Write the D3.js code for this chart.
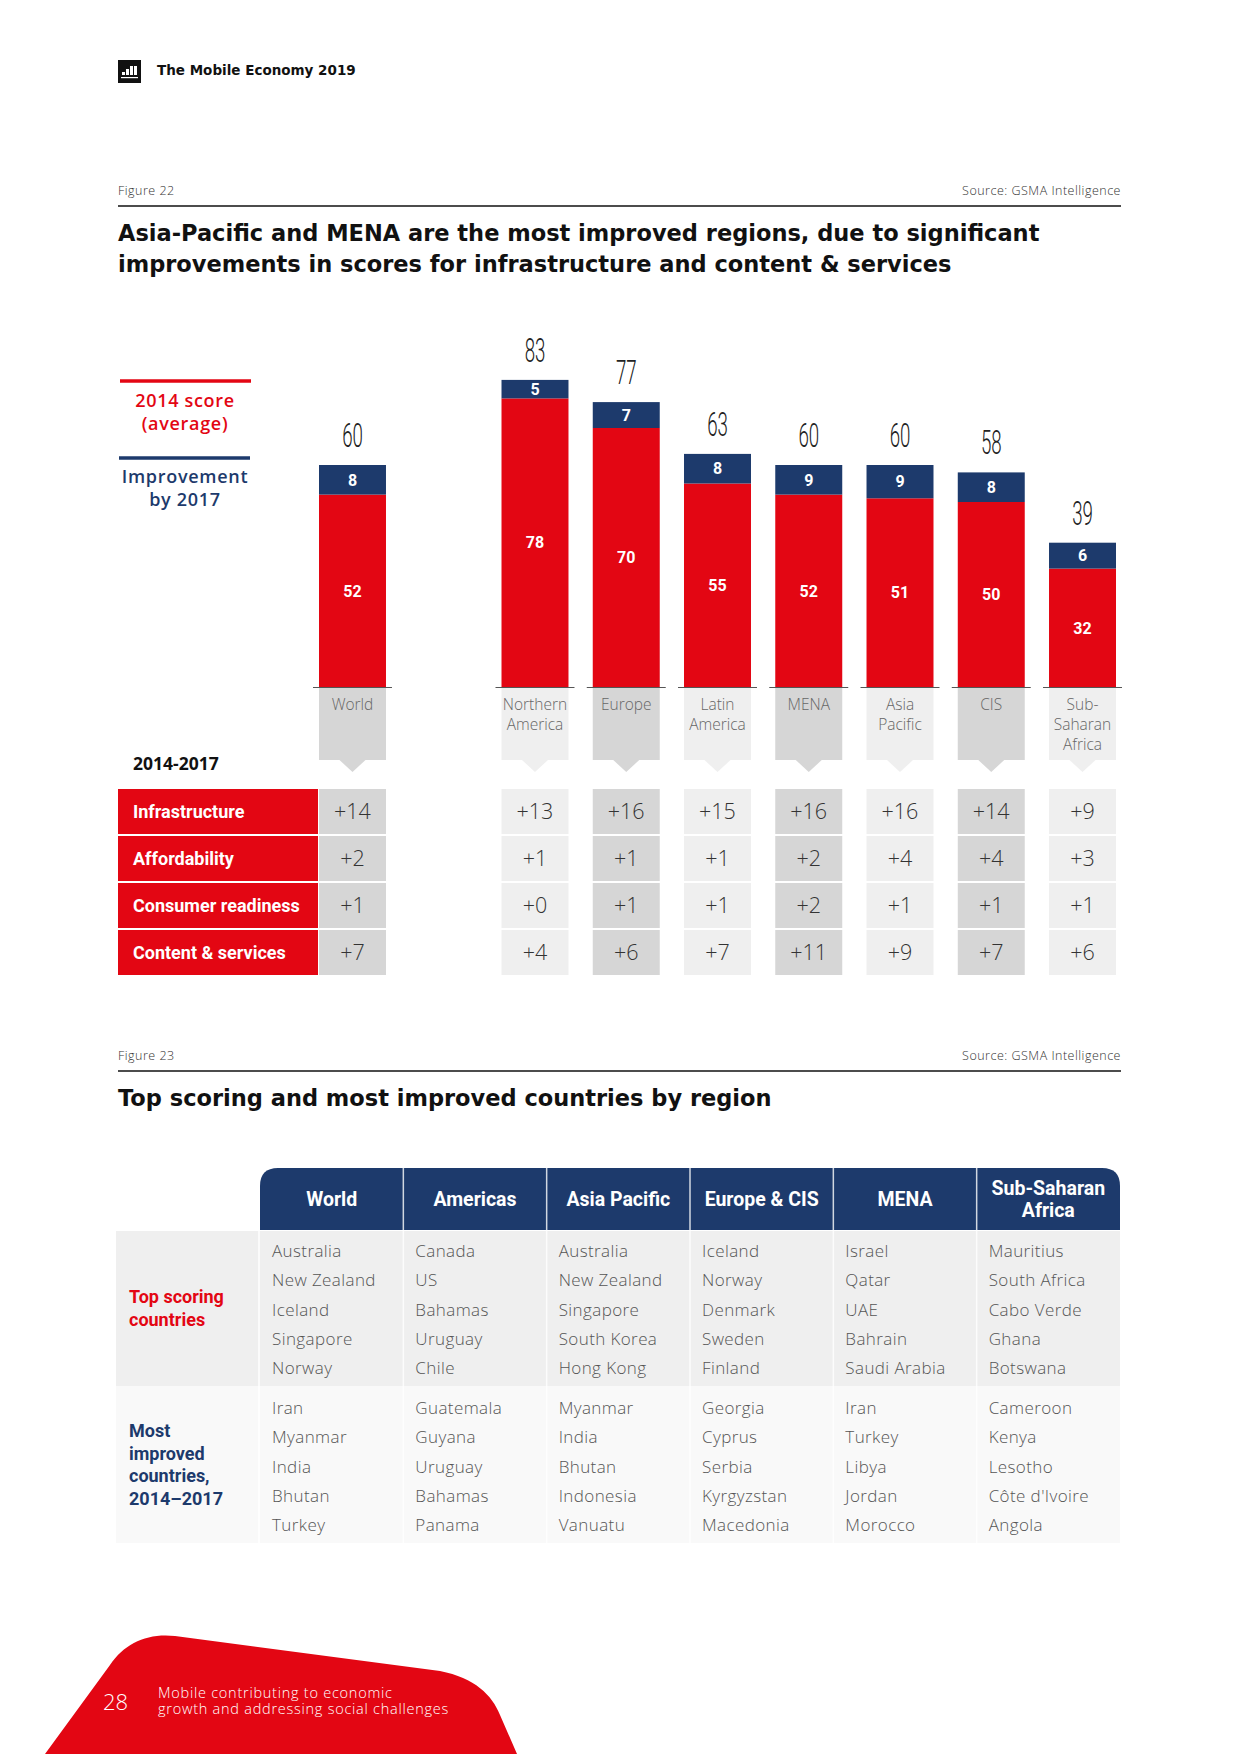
<!DOCTYPE html>
<html>
<head>
<meta charset="utf-8">
<script src="https://cdn.jsdelivr.net/npm/d3@7"></script>
<style>
  body { margin: 0; background: #ffffff; }
  svg { display: block; }
</style>
</head>
<body>
<svg id="page"></svg>
<script>
// page size
const width = 1240, height = 1754;

// Figure 22 data
const regions = ["World", "Northern America", "Europe", "Latin America", "MENA", "Asia Pacific", "CIS", "Sub-Saharan Africa"];
const regionLines = [["World"], ["Northern", "America"], ["Europe"], ["Latin", "America"], ["MENA"], ["Asia", "Pacific"], ["CIS"], ["Sub-", "Saharan", "Africa"]];
const score2014 = [52, 78, 70, 55, 52, 51, 50, 32];
const improvement = [8, 5, 7, 8, 9, 9, 8, 6];
const score2017 = [60, 83, 77, 63, 60, 60, 58, 39];

const pillars = ["Infrastructure", "Affordability", "Consumer readiness", "Content & services"];
const infrastructure = [14, 13, 16, 15, 16, 16, 14, 9];
const affordability = [2, 1, 1, 1, 2, 4, 4, 3];
const consumerReadiness = [1, 0, 1, 1, 2, 1, 1, 1];
const contentServices = [7, 4, 6, 7, 11, 9, 7, 6];

// Figure 23 data
const tableRegions = ["World", "Americas", "Asia Pacific", "Europe & CIS", "MENA", "Sub-Saharan Africa"];
const tableHeaderLines = [["World"], ["Americas"], ["Asia Pacific"], ["Europe & CIS"], ["MENA"], ["Sub-Saharan", "Africa"]];
const topScoring = [
  ["Australia", "New Zealand", "Iceland", "Singapore", "Norway"],
  ["Canada", "US", "Bahamas", "Uruguay", "Chile"],
  ["Australia", "New Zealand", "Singapore", "South Korea", "Hong Kong"],
  ["Iceland", "Norway", "Denmark", "Sweden", "Finland"],
  ["Israel", "Qatar", "UAE", "Bahrain", "Saudi Arabia"],
  ["Mauritius", "South Africa", "Cabo Verde", "Ghana", "Botswana"]
];
const mostImproved = [
  ["Iran", "Myanmar", "India", "Bhutan", "Turkey"],
  ["Guatemala", "Guyana", "Uruguay", "Bahamas", "Panama"],
  ["Myanmar", "India", "Bhutan", "Indonesia", "Vanuatu"],
  ["Georgia", "Cyprus", "Serbia", "Kyrgyzstan", "Macedonia"],
  ["Iran", "Turkey", "Libya", "Jordan", "Morocco"],
  ["Cameroon", "Kenya", "Lesotho", "Côte d'Ivoire", "Angola"]
];

const red = "#e30613", navy = "#1d3a6c";
const tabDark = "#d6d6d6", tabLight = "#efefef";
const gotham = "'Open Sans', 'Noto Sans', sans-serif";
const wide = "'DejaVu Sans', 'Open Sans', sans-serif";
const narrow = "Roboto, 'Open Sans', sans-serif";

const svg = d3.select("#page")
    .attr("width", width)
    .attr("height", height)
    .style("background", "#ffffff");

// ---------- page header ----------
const logo = svg.append("g").attr("transform", "translate(118,60)");
logo.append("rect").attr("width", 23).attr("height", 23).attr("fill", "#111");
[[5, 10], [9, 7], [13, 4], [17, 4]].forEach(([bx, by]) => {
  logo.append("rect").attr("x", bx - 1).attr("y", by + 2).attr("width", 3).attr("height", 13 - by).attr("fill", "#fff");
});
logo.append("rect").attr("x", 3).attr("y", 17).attr("width", 17).attr("height", 1.2).attr("fill", "#fff");

svg.append("text")
    .attr("x", 157).attr("y", 75)
    .style("font-family", wide).style("font-weight", 700).style("font-size", "13.5px")
    .attr("fill", "#111")
    .text("The Mobile Economy 2019");

// figure heading helper
function figureHead(y, label, title) {
  svg.append("text").attr("x", 118).attr("y", y)
      .style("font-family", gotham).style("font-weight", 300).style("font-size", "12.5px")
      .style("letter-spacing", "0.5px")
      .attr("fill", "#333").text(label);
  svg.append("text").attr("x", 1121).attr("y", y).attr("text-anchor", "end")
      .style("font-family", gotham).style("font-weight", 300).style("font-size", "12.5px")
      .style("letter-spacing", "0.5px")
      .attr("fill", "#333").text("Source: GSMA Intelligence");
  svg.append("line").attr("x1", 118).attr("x2", 1121).attr("y1", y + 11).attr("y2", y + 11)
      .attr("stroke", "#111").attr("stroke-width", 1.5);
  title.forEach((t, i) => {
    svg.append("text").attr("x", 118).attr("y", y + 46 + i * 31)
        .style("font-family", wide).style("font-weight", 700).style("font-size", "22.5px")
        .attr("fill", "#111").text(t);
  });
}

figureHead(195, "Figure 22", [
  "Asia-Pacific and MENA are the most improved regions, due to significant",
  "improvements in scores for infrastructure and content & services"
]);

// ---------- Figure 22: stacked bars ----------
const xScale = d3.scaleBand()
    .domain([regions[0], "gap", ...regions.slice(1)])
    .range([319, 1116])
    .paddingInner(0.266);

const yScale = d3.scaleLinear()
    .domain([0, 100])
    .range([687, 317]);

const bw = xScale.bandwidth();
const barData = regions.map((r, i) => ({
  region: r, base: score2014[i], imp: improvement[i], total: score2017[i], lines: regionLines[i], i: i
}));

// legend
svg.append("line").attr("x1", 120).attr("x2", 251).attr("y1", 381).attr("y2", 381)
    .attr("stroke", red).attr("stroke-width", 3.5);
svg.append("text").attr("x", 185).attr("text-anchor", "middle")
    .style("font-family", gotham).style("font-weight", 600).style("font-size", "18px")
    .style("letter-spacing", "0.7px")
    .attr("fill", red)
    .selectAll("tspan").data(["2014 score", "(average)"]).join("tspan")
    .attr("x", 185).attr("y", (d, i) => 407 + i * 23).text(d => d);
svg.append("line").attr("x1", 119).attr("x2", 250).attr("y1", 458).attr("y2", 458)
    .attr("stroke", navy).attr("stroke-width", 3.5);
svg.append("text").attr("x", 185).attr("text-anchor", "middle")
    .style("font-family", gotham).style("font-weight", 600).style("font-size", "18px")
    .style("letter-spacing", "0.7px")
    .attr("fill", navy)
    .selectAll("tspan").data(["Improvement", "by 2017"]).join("tspan")
    .attr("x", 185).attr("y", (d, i) => 483 + i * 23).text(d => d);

const bars = svg.append("g").selectAll("g").data(barData).join("g");

// 2014 score segment
bars.append("rect")
    .attr("x", d => xScale(d.region))
    .attr("y", d => yScale(d.base))
    .attr("width", bw)
    .attr("height", d => yScale(0) - yScale(d.base))
    .attr("fill", red);

// improvement segment
bars.append("rect")
    .attr("x", d => xScale(d.region))
    .attr("y", d => yScale(d.total))
    .attr("width", bw)
    .attr("height", d => yScale(d.base) - yScale(d.total))
    .attr("fill", navy);

// baseline under each bar
bars.append("line")
    .attr("x1", d => xScale(d.region) - 6)
    .attr("x2", d => xScale(d.region) + bw + 6)
    .attr("y1", yScale(0) + 0.5).attr("y2", yScale(0) + 0.5)
    .attr("stroke", "#555").attr("stroke-width", 1.2);

// segment values
bars.append("text")
    .attr("x", d => xScale(d.region) + bw / 2)
    .attr("y", d => (yScale(0) + yScale(d.base)) / 2)
    .attr("dy", "0.36em").attr("text-anchor", "middle")
    .style("font-family", narrow).style("font-weight", 700).style("font-size", "16px")
    .attr("fill", "#fff")
    .text(d => d.base);

bars.append("text")
    .attr("x", d => xScale(d.region) + bw / 2)
    .attr("y", d => (yScale(d.base) + yScale(d.total)) / 2)
    .attr("dy", "0.36em").attr("text-anchor", "middle")
    .style("font-family", narrow).style("font-weight", 700).style("font-size", "16px")
    .attr("fill", "#fff")
    .text(d => d.imp);

// 2017 totals in a tall condensed style
bars.append("text")
    .attr("transform", d => `translate(${xScale(d.region) + bw / 2},${yScale(d.total) - 18}) scale(0.55,1)`)
    .attr("text-anchor", "middle")
    .style("font-family", narrow).style("font-weight", 300).style("font-size", "34px")
    .attr("fill", "#222")
    .text(d => d.total);

// region tabs
bars.append("path")
    .attr("d", d => {
      const x0 = xScale(d.region), cx = x0 + bw / 2;
      return `M${x0},688 H${x0 + bw} V760 H${cx + 13} L${cx},772 L${cx - 13},760 H${x0} Z`;
    })
    .attr("fill", d => d.i % 2 === 0 ? tabDark : tabLight);

bars.append("text")
    .attr("text-anchor", "middle")
    .style("font-family", gotham).style("font-weight", 300).style("font-size", "15.5px")
    .attr("fill", "#666")
    .selectAll("tspan").data(d => d.lines.map(l => ({ l, x: xScale(d.region) + bw / 2 }))).join("tspan")
    .attr("x", t => t.x).attr("y", (t, j) => 710 + j * 20).text(t => t.l);

// ---------- Figure 22: score change table ----------
svg.append("text").attr("x", 133).attr("y", 770)
    .style("font-family", gotham).style("font-weight", 700).style("font-size", "17.5px")
    .attr("fill", "#111").text("2014-2017");

const pillarValues = [infrastructure, affordability, consumerReadiness, contentServices];
const rowY = d3.scaleBand().domain(pillars).range([788, 976]);
const rh = rowY.bandwidth();

const rows = svg.append("g").selectAll("g").data(pillars).join("g");
rows.append("rect")
    .attr("x", 118).attr("y", p => rowY(p) + 1)
    .attr("width", 200).attr("height", rh - 2)
    .attr("fill", red);
rows.append("text")
    .attr("x", 133).attr("y", p => rowY(p) + rh / 2).attr("dy", "0.36em")
    .style("font-family", narrow).style("font-weight", 700).style("font-size", "18px")
    .attr("fill", "#fff").text(p => p);

pillars.forEach((p, pi) => {
  const vals = pillarValues[pi];
  const g = svg.append("g");
  g.selectAll("rect").data(regions).join("rect")
      .attr("x", r => xScale(r))
      .attr("y", rowY(p) + 1)
      .attr("width", bw).attr("height", rh - 2)
      .attr("fill", (r, i) => i % 2 === 0 ? tabDark : tabLight);
  g.selectAll("text").data(regions).join("text")
      .attr("x", r => xScale(r) + bw / 2)
      .attr("y", rowY(p) + rh / 2).attr("dy", "0.36em")
      .attr("text-anchor", "middle")
      .style("font-family", gotham).style("font-weight", 300).style("font-size", "21.5px")
      .attr("fill", "#333")
      .text((r, i) => "+" + vals[i]);
});

// ---------- Figure 23 ----------
figureHead(1060, "Figure 23", ["Top scoring and most improved countries by region"]);

const colScale = d3.scaleBand().domain(tableRegions).range([260, 1120]);
const cw = colScale.bandwidth();
const headTop = 1168, headBottom = 1230;
const topBand = [1231, 1386], impBand = [1386, 1543];

// body backgrounds
svg.append("rect").attr("x", 116).attr("y", topBand[0]).attr("width", 1120 - 116)
    .attr("height", topBand[1] - topBand[0]).attr("fill", "#efefef");
svg.append("rect").attr("x", 116).attr("y", impBand[0]).attr("width", 1120 - 116)
    .attr("height", impBand[1] - impBand[0]).attr("fill", "#f9f9f9");

// header with rounded outer corners
const r = 18;
svg.append("path")
    .attr("d", `M260,${headBottom} V${headTop + r} Q260,${headTop} ${260 + r},${headTop} H${1120 - r} Q1120,${headTop} 1120,${headTop + r} V${headBottom} Z`)
    .attr("fill", navy);

// column separators
svg.append("g").selectAll("line").data(tableRegions.slice(1)).join("line")
    .attr("x1", c => colScale(c)).attr("x2", c => colScale(c))
    .attr("y1", headTop).attr("y2", impBand[1])
    .attr("stroke", "#ffffff").attr("stroke-width", 1.5).attr("stroke-opacity", 0.8);
svg.append("line").attr("x1", 259).attr("x2", 259).attr("y1", topBand[0]).attr("y2", impBand[1])
    .attr("stroke", "#ffffff").attr("stroke-width", 1.5);

// header labels
svg.append("g").selectAll("text").data(tableRegions).join("text")
    .attr("text-anchor", "middle")
    .style("font-family", narrow).style("font-weight", 700).style("font-size", "19.5px")
    .attr("fill", "#fff")
    .each(function (c, i) {
      const lines = tableHeaderLines[i];
      const y0 = (headTop + headBottom) / 2 - (lines.length - 1) * 11;
      d3.select(this).selectAll("tspan").data(lines).join("tspan")
          .attr("x", colScale(c) + cw / 2)
          .attr("y", (l, j) => y0 + j * 22)
          .attr("dy", "0.36em")
          .text(l => l);
    });

// country lists
function countryBlock(lists, firstY) {
  const g = svg.append("g");
  tableRegions.forEach((c, i) => {
    g.append("g").selectAll("text").data(lists[i]).join("text")
        .attr("x", colScale(c) + 12)
        .attr("y", (n, j) => firstY + j * 29.2)
        .attr("dy", "0.36em")
        .style("font-family", gotham).style("font-weight", 300).style("font-size", "17px")
        .style("letter-spacing", "0.4px")
        .attr("fill", "#555")
        .text(n => n);
  });
}
countryBlock(topScoring, 1251);
countryBlock(mostImproved, 1408);

// row labels
svg.append("text")
    .style("font-family", narrow).style("font-weight", 700).style("font-size", "18px")
    .attr("fill", red)
    .selectAll("tspan").data(["Top scoring", "countries"]).join("tspan")
    .attr("x", 129).attr("y", (d, i) => 1297 + i * 23).attr("dy", "0.36em").text(d => d);
svg.append("text")
    .style("font-family", narrow).style("font-weight", 700).style("font-size", "18px")
    .attr("fill", navy)
    .selectAll("tspan").data(["Most", "improved", "countries,", "2014–2017"]).join("tspan")
    .attr("x", 129).attr("y", (d, i) => 1431 + i * 22.5).attr("dy", "0.36em").text(d => d);

// ---------- footer ----------
svg.append("path")
    .attr("d", "M45,1754 L110,1665 C125,1643 147,1633 175,1636 L440,1671 C475,1678 492,1695 500,1715 L517,1754 Z")
    .attr("fill", red);
svg.append("text").attr("x", 103).attr("y", 1710)
    .style("font-family", gotham).style("font-weight", 300).style("font-size", "22px")
    .attr("fill", "#fff").text("28");
svg.append("text")
    .style("font-family", gotham).style("font-weight", 300).style("font-size", "14.5px")
    .style("letter-spacing", "0.75px")
    .attr("fill", "#fff")
    .selectAll("tspan").data(["Mobile contributing to economic", "growth and addressing social challenges"]).join("tspan")
    .attr("x", 158).attr("y", (d, i) => 1698 + i * 16).text(d => d);
</script>
</body>
</html>
